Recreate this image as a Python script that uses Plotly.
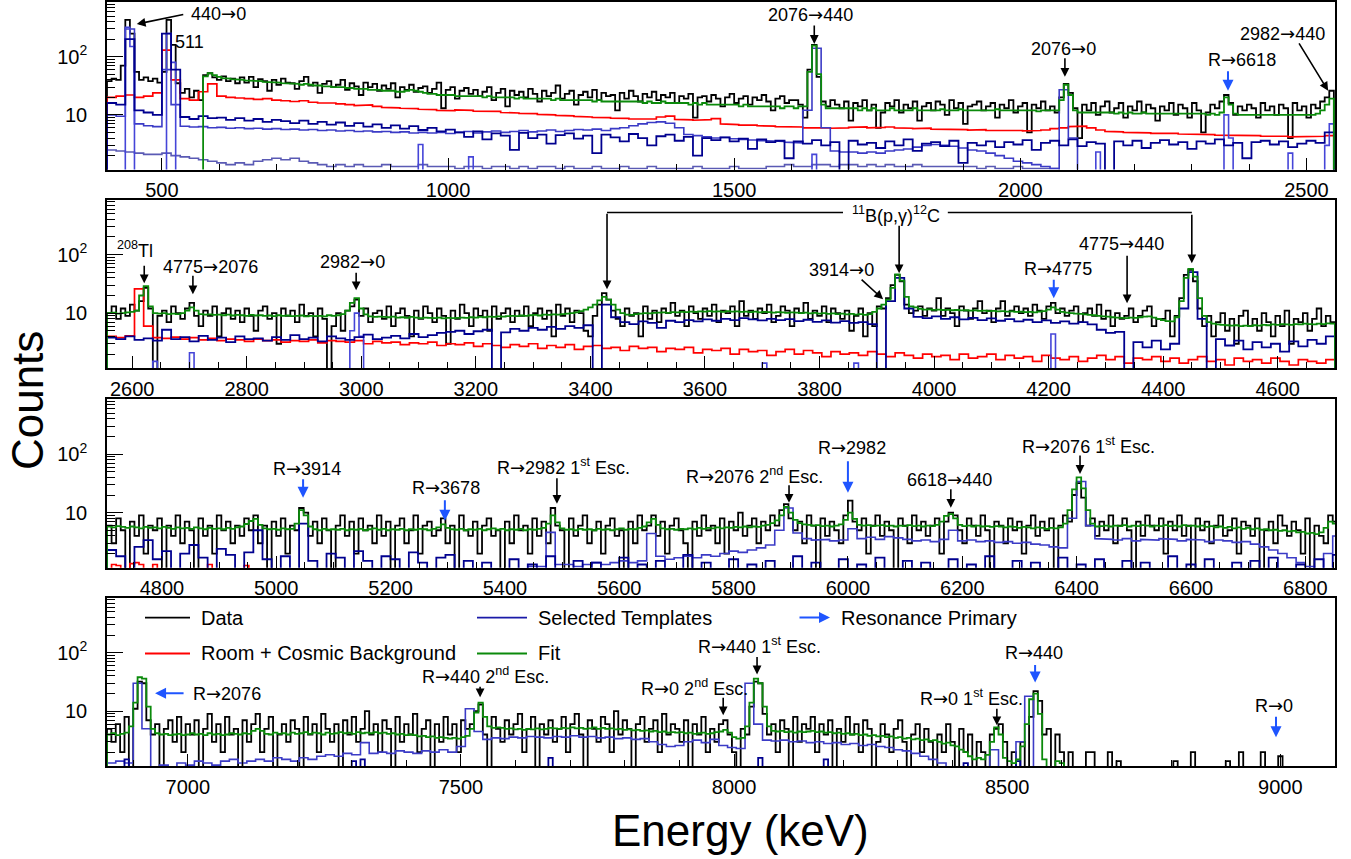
import plotly.graph_objects as go

FONT = "Liberation Sans, Arial, Helvetica, sans-serif"
FLOOR = 0.3  # zero-count bins are drawn at the bottom edge (below the log range)

# ---------------- panel energy ranges (keV) ----------------
x_range = [[404, 2550], [2556, 4700], [4704, 6852], [6852, 9100]]
bin_start = [404, 2556, 4704, 6852]
FINE = 8      # keV per bin (data, fit, sparse templates)
COARSE = 16   # keV per bin (background, template continua)
y_log_range = [0.06, 2.94]

# ================= PANEL 1 =================
data_p1 = [38, 42, 40, 70, 430, 250, 55, 40, 44, 38,
           42, 36, 55, 430, 160, 35, 24, 28, 20, 26,
           18, 48, 52, 44, 40, 46, 38, 42, 35, 44,
           36, 45, 30, 41, 38, 26, 40, 33, 42, 36,
           35, 28, 38, 45, 32, 36, 24, 34, 38, 30,
           33, 40, 27, 35, 31, 22, 36, 30, 34, 26,
           32, 28, 35, 20, 30, 27, 33, 25, 29, 31,
           24, 28, 36, 13, 27, 30, 19, 26, 29, 23,
           27, 21, 25, 30, 18, 24, 28, 14, 26, 22,
           25, 20, 28, 23, 17, 26, 21, 24, 32, 19,
           23, 26, 15, 22, 25, 20, 27, 18, 24, 21,
           22, 12, 24, 19, 26, 21, 17, 23, 20, 25,
           18, 22, 20, 24, 16, 21, 19, 23, 9, 20,
           21, 17, 22, 19, 14, 20, 23, 16, 19, 21,
           15, 20, 18, 22, 17, 12, 19, 21, 16, 18,
           18, 15, 9, 60, 160, 45, 17, 14, 18, 15,
           13, 17, 8, 16, 14, 18, 12, 15, 6, 11,
           16, 14, 18, 11, 15, 13, 17, 8, 14, 16,
           12, 17, 15, 10, 18, 13, 16, 7, 14, 15,
           17, 12, 14, 16, 9, 15, 13, 18, 11, 14,
           16, 5, 15, 13, 17, 12, 14, 11, 20, 34,
           24, 13, 4, 15, 12, 16, 10, 14, 17, 11,
           13, 16, 9, 14, 12, 17, 11, 15, 13, 8,
           14, 12, 16, 10, 15, 13, 9, 16, 12, 5,
           11, 15, 13, 17, 22, 16, 10, 14, 12, 15,
           13, 9, 16, 12, 14, 10, 15, 13, 4, 16,
           12, 14, 9, 15, 13, 17, 20, 26]

fit_p1 = [0] * 21 + [46, 52, 48, 45, 43, 42, 41, 40, 40,
           39, 39, 38, 38, 37, 37, 36, 36, 35, 35,
           34, 34, 33, 34, 33, 32, 32, 31, 31, 30,
           30, 30, 29, 29, 28, 28, 28, 27, 27, 27,
           26, 26, 26, 25, 25, 26, 27, 26, 25, 24,
           23, 23, 22, 22, 22, 22, 21, 21, 21, 21,
           21, 21, 20, 21, 20, 20, 20, 20, 20, 19,
           20, 19, 19, 19, 19, 19, 19, 18, 19, 18,
           18, 18, 18, 18, 18, 18, 17, 18, 17, 17,
           17, 17, 17, 17, 17, 17, 17, 16, 17, 16,
           16, 17, 16, 16, 16, 16, 16, 15, 16, 15,
           16, 15, 15, 15, 15, 15, 15, 15, 14, 15,
           14, 14, 14, 14, 14, 14, 14, 13, 14, 14,
           13, 14, 14, 55, 155, 50, 15, 13, 13, 13,
           13, 13, 13, 13, 12, 13, 12, 13, 12, 12,
           12, 13, 12, 12, 12, 12, 13, 12, 12, 12,
           12, 12, 12.5, 12, 12, 12, 12.5, 12, 12, 12,
           12, 12, 12, 12, 12.5, 12, 12, 12, 12, 12,
           12, 12, 12, 11.5, 12, 12, 12, 12, 18, 33,
           22, 12, 11, 11, 11, 11, 11, 11, 11, 11,
           10.5, 11, 10.5, 11, 10.5, 10.5, 11, 10.5, 10.5, 10.5,
           10.5, 10.5, 10.5, 10.5, 10.5, 10.5, 10.5, 10.5, 10.5, 10.5,
           10, 10.5, 10, 11, 20, 15, 10.5, 10, 10, 10,
           10, 10, 10, 10, 10, 10, 10, 10, 10, 10,
           10, 10, 10, 10, 10.5, 12, 15, 19]

bkg_p1 = [20, 21, 22, 20, 21, 24, 130, 40, 19, 18, 25, 34, 21, 20,
          19.5, 19, 18.5, 19, 18, 17.5, 17, 17.5, 16.5, 16, 16, 15.5, 15, 14.5,
          14.8, 14, 13.5, 13.2, 13, 12.8, 12.5, 12.3, 12, 11.8,
          12.2, 12, 11.6, 11.4, 11.5, 11, 10.8, 10.6, 10.5, 10.2, 10, 9.8, 9.6, 9.4, 9.2,
          9.1, 9.0, 8.8, 8.7, 8.5, 8.4, 8.5, 9.2, 9.5, 8.4, 8.2, 8.1, 8.3, 8.6,
          7.0, 6.8, 6.7, 6.7, 6.5, 6.4, 6.3, 6.3, 6.2, 6.0, 6.1, 6.0, 5.9, 6.0, 6.1, 6.2, 6.0, 6.1,
          6.2, 6.0, 5.9, 5.8, 5.9, 5.7, 5.6, 5.7, 5.6, 5.5, 5.6, 5.4, 5.5, 5.5, 5.4, 5.3, 5.4, 5.5,
          5.8, 6.0, 6.3,
          6.4, 6.0, 5.5, 5.2, 5.1, 5.0, 5.0, 4.9, 4.8, 4.9, 4.8, 4.7, 4.6, 4.7, 4.6, 4.5, 4.5, 4.4,
          4.5, 4.4, 4.3, 4.4, 4.3, 4.2, 4.3, 4.2, 4.3, 4.4]

tplA_p1 = [16, 15, 200, 12, 11, 10, 250, 60,
           9.2, 8.5, 9.5, 8.8, 9.0, 8.2, 8.8, 8.0, 8.5, 7.6, 8.2, 7.8, 7.2, 8.0, 7.0,
           7.6, 6.8, 7.4, 6.5, 7.2, 6.3, 6.9, 6.0, 6.6, 5.8, 6.4, 5.5, 6.0, 5.2, 5.6,
           5.0, 4.2, 5.2, 3.8, 4.8, 4.4, 2.5, 4.9, 4.0, 4.6, 3.2, 4.5, 4.8, 3.9, 4.4,
           2.2, 4.6, 4.1, 3.5, 4.7, 4.0, 3.0, 4.3, 4.6, 3.6, 4.2, 2.0, 4.0, 3.7, 4.1,
           3.5, 3.9, 2.6, 3.8, 3.4, 3.6, 1.8, 3.5, 3.2, 3.7, 3.0, 3.4, 0, 3.6, 3.1,
           3.3, 2.7, 3.5, 3.0, 3.8, 2.4, 3.2, 3.4, 2.9, 3.6, 1.5, 3.3, 3.0, 3.5, 2.8,
           3.4, 3.1, 3.7, 2.5, 3.3, 3.6, 3.0, 3.8, 2.9, 3.4, 3.2, 0, 3.5, 3.0, 3.6,
           2.7, 3.3, 3.7, 3.1, 3.4, 2.6, 3.5, 3.2, 3.8, 3.0, 3.3, 1.8, 3.4, 3.6, 3.1,
           3.5, 2.8, 3.2, 3.6, 3.3, 5.0]

tplB_p1 = [10, 9.5, 300, 7, 6.5, 6.3, 60, 15,
           6.4, 6.2, 6.3, 6.0, 6.1, 5.9, 6.0, 5.8, 5.9, 5.7, 5.8, 5.6, 5.7, 5.5, 5.6,
           5.4, 5.5, 5.3, 5.4, 5.2, 5.3, 5.1, 5.2, 5.0, 5.1, 4.9, 5.0, 4.9, 5.0, 4.8,
           5.0, 5.2, 4.9, 5.1, 5.3, 5.0, 5.2, 5.4, 5.1, 5.3, 5.5, 5.2, 5.4, 5.6, 5.5,
           5.7, 5.4, 5.8, 6.0, 6.5, 7.0, 7.4, 7.6, 7.2, 6.0, 4.6, 4.4, 4.2, 4.0, 4.1,
           3.9, 3.8, 3.7, 3.6, 3.6, 3.5, 3.4, 3.3, 12, 140, 6, 2.4, 2.3, 2.3, 2.2,
           2.3, 2.2, 2.4, 2.5, 2.6, 2.8, 3.0, 3.1, 3.0, 2.9, 2.7, 2.5, 2.4, 2.2, 2.0,
           1.8, 1.6, 1.5, 1.4, 1.3, 1.2, 27, 4] + [0] * 28

tplC_p1 = [2.5, 2.4, 2.3, 2.2, 2.1, 2.1, 2.2, 2.0, 1.9, 1.8, 1.7, 1.6, 1.5,
           1.4, 1.5, 1.4, 1.6, 1.7, 1.8, 1.7, 1.8, 1.6, 1.5,
           1.4, 1.3, 1.4, 1.3, 1.4, 1.3, 1.3, 1.4, 1.3, 1.3,
           1.3, 1.4, 1.3, 1.3, 1.3, 1.2, 1.3, 1.3, 1.2, 1.3,
           1.3, 1.2, 1.3, 1.2, 1.3, 1.3, 1.2, 1.3, 1.2, 1.2,
           1.3, 1.2, 1.2, 1.3, 1.2, 1.2, 1.3, 1.2, 1.2, 1.2,
           1.2, 1.3, 1.2, 1.2, 1.2, 1.3, 1.2, 1.2, 1.2, 1.3,
           1.3, 1.4, 1.3, 1.3, 1.4, 1.4, 1.3, 1.4, 1.4, 1.3,
           1.4, 1.3, 1.4, 1.3, 1.3, 1.4, 1.3, 1.3, 1.3, 1.3,
           1.3, 1.3, 1.2, 1.3, 1.2, 1.2, 1.3, 1.2, 1.2, 1.2, 1.2] + [0] * 30

# narrow-peak template: bin start energy (keV) -> counts
tplD_p1 = {436: 320, 444: 150, 508: 250, 516: 80, 948: 3.1, 1036: 1.9, 1636: 2.1,
           2132: 2.3, 2356: 10, 2364: 4, 2468: 2.2, 2532: 3, 2540: 7}

# ================= PANEL 2 =================
data_p2 = [10, 13, 8, 12, 9, 14, 11, 16, 27, 12,
           0, 9, 11, 7, 13, 10, 8, 12, 15, 9,
           6, 11, 9, 13, 4, 10, 12, 8, 11, 7,
           12, 9, 5, 11, 13, 8, 10, 3, 12, 9,
           11, 7, 14, 9, 10, 4, 12, 8, 0, 6,
           10, 5, 11, 13, 17, 9, 12, 7, 10, 11,
           8, 13, 6, 10, 12, 9, 4, 11, 8, 13,
           10, 7, 12, 9, 3, 11, 8, 14, 10, 6,
           12, 9, 11, 5, 13, 8, 10, 12, 7, 11,
           9, 13, 6, 10, 12, 8, 11, 4, 14, 9,
           12, 7, 11, 10, 5, 4, 9, 14, 22, 17,
           11, 8, 6, 12, 9, 10, 4, 13, 8, 11,
           7, 12, 10, 15, 9, 11, 6, 13, 10, 8,
           12, 9, 14, 7, 11, 10, 13, 6, 16, 9,
           11, 8, 12, 10, 14, 7, 9, 13, 11, 6,
           12, 10, 15, 8, 11, 9, 13, 7, 12, 10,
           8, 11, 5, 9, 12, 4, 10, 6, 13, 12,
           18, 30, 45, 35, 14, 10, 11, 13, 9, 12,
           11, 18, 9, 12, 10, 6, 13, 11, 8, 12,
           16, 10, 11, 7, 12, 16, 9, 11, 13, 10,
           12, 9, 14, 11, 8, 13, 15, 10, 12, 9,
           11, 13, 7, 10, 12, 9, 14, 8, 11, 6,
           10, 8, 9, 12, 7, 9, 11, 13, 6, 8,
           8, 11, 4, 9, 18, 45, 55, 35, 12, 6,
           9, 4, 7, 10, 5, 8, 3, 9, 11, 6,
           8, 5, 10, 7, 4, 9, 6, 11, 3, 8,
           7, 10, 5, 8, 12, 6, 9, 7]

fit_p2 = [10, 10.2, 9.8, 10, 10.3, 10.5, 11, 20, 29, 13,
          10, 9.8, 10, 9.6, 9.8, 9.6, 10, 11, 12.5, 11,
          9.6, 9.4, 9.5, 9.3, 9.4, 9.2, 9.4, 9.1, 9.3, 9.2,
          9.0, 9.3, 9.1, 9.2, 9.0, 9.1, 8.9, 9.2, 9.0, 9.1,
          8.9, 9.0, 9.1, 8.8, 9.0, 8.9, 9.0, 8.8, 9.2, 9.0,
          9.2, 9.6, 11, 15, 18, 12, 9.5, 8.8, 8.6, 8.7,
          8.6, 8.5, 8.7, 8.4, 8.5, 8.3, 8.6, 8.4, 8.2, 8.4,
          8.3, 8.2, 8.4, 8.1, 8.3, 8.2, 8.3, 8.4, 8.3, 8.5,
          8.4, 8.6, 8.5, 8.7, 8.6, 8.8, 8.7, 8.9, 9.0, 8.9,
          9.1, 9.0, 9.2, 9.3, 9.1, 9.4, 9.3, 9.5, 9.4, 9.6,
          9.8, 10, 10.3, 10.8, 11.5, 12.5, 14, 16.5, 19, 17,
          14, 11.5, 10, 9.4, 9.3, 9.6, 9.8, 10, 9.9, 10.1,
          10.2, 10.3, 10.1, 10.4, 10.3, 10.5, 10.4, 10.6, 10.5, 10.7,
          10.6, 10.8, 10.6, 10.7, 10.5, 10.8, 10.6, 10.7, 10.5, 10.6,
          10.4, 10.6, 10.3, 10.5, 10.4, 10.2, 10.4, 10.3, 10.1, 10.3,
          10.2, 10.0, 10.2, 9.9, 10.1, 9.8, 10.0, 9.7, 9.9, 9.6,
          9.8, 9.5, 9.7, 9.4, 9.6, 9.3, 9.6, 10.5, 12, 14,
          17, 27, 46, 36, 19, 13, 12.5, 11.8, 11.5, 11.6,
          11.4, 11.5, 11.3, 11.4, 11.2, 11.3, 11.1, 11.2, 11.0, 11.1,
          10.9, 11.0, 10.8, 10.9, 10.7, 10.8, 10.6, 10.7, 10.5, 10.6,
          10.4, 10.5, 10.3, 10.6, 10.8, 11.5, 12.5, 11.5, 10.5, 10.2,
          10.0, 9.8, 9.7, 9.5, 9.3, 9.2, 9.0, 8.8, 8.7, 8.5,
          8.4, 8.3, 8.2, 8.4, 8.3, 8.5, 8.7, 8.8, 8.4, 8.0,
          7.6, 7.3, 7.2, 8.5, 16, 40, 57, 42, 18, 9,
          7.0, 6.6, 6.4, 6.3, 6.2, 6.1, 6.2, 6.0, 6.1, 6.0,
          6.2, 6.1, 6.3, 6.2, 6.4, 6.3, 6.5, 6.4, 6.3, 6.5,
          6.4, 6.6, 6.5, 6.4, 6.6, 6.5, 6.7, 6.6]

bkg_p2 = [4.0, 3.8, 4.1, 26, 6,
          3.8, 3.7, 3.9, 3.6, 3.8, 3.5, 3.7, 3.4, 3.6, 3.5, 3.3, 3.6, 3.4, 3.5, 3.2, 3.4,
          3.3, 3.5, 3.1, 3.4, 3.3, 3.2, 3.4, 3.0, 3.3, 3.1, 3.2, 2.9, 3.1, 3.0, 3.2, 2.8, 3.0,
          2.9, 3.1, 2.7, 3.0, 2.8, 2.6, 2.9, 2.7, 3.0, 2.5, 2.8, 2.6, 2.9, 2.4, 2.7, 2.8,
          2.5, 2.6, 2.3, 2.7, 2.5, 2.6, 2.2, 2.5, 2.4, 2.6, 2.1, 2.4, 2.3, 2.5, 2.0, 2.4,
          2.2, 2.3, 1.9, 2.2, 2.4, 2.0, 2.3, 2.1, 1.8, 2.2, 2.0, 2.1, 1.9, 2.2,
          2.0, 1.8, 2.1, 1.9, 1.7, 2.0, 1.8, 1.9, 1.6, 2.0, 1.7, 1.8, 2.0, 1.6, 1.9, 1.7,
          1.8, 1.5, 1.9, 1.7, 1.6, 1.8, 1.5, 1.7, 1.9, 1.6, 1.8, 1.4, 1.7, 1.6, 1.8, 1.5,
          1.7, 1.4, 1.6, 1.8, 1.5, 1.6, 1.3, 1.7, 1.5, 1.6, 1.4, 1.7, 1.5, 1.3, 1.6, 1.5,
          1.4, 1.6]

tplA_p2 = [3.8, 3.6, 4.0, 3.5, 3.7, 3.4, 5.2, 3.6, 3.9, 3.3, 4.1, 3.5, 3.8, 3.2, 4.0,
           3.6, 3.7, 3.4, 3.9, 3.5, 4.2, 3.6, 3.8, 3.3, 4.0, 3.7, 3.5, 3.9, 4.3, 3.6,
           3.8, 4.1, 3.7, 4.4, 3.9, 4.2, 4.6,
           4.8, 5.0, 4.4, 4.9, 5.2, 0, 4.7, 5.4, 5.0, 5.6, 5.2, 5.8, 5.4, 6.0, 5.6, 6.2, 0,
           14, 8.5,
           7.0, 6.5, 7.2, 6.8, 5.6, 7.4, 7.0, 7.6, 7.2, 7.8, 7.4, 8.0, 7.6, 8.2, 7.8,
           7.5, 8.0, 7.6, 7.9, 7.3, 7.7, 7.1, 7.5, 6.9, 7.3, 6.8, 7.0, 6.5, 0,
           16, 40, 12,
           8.6, 8.2, 8.8, 8.0, 8.5, 7.8, 8.3, 7.6, 8.1, 7.4, 7.9, 7.2, 7.7, 7.0, 7.5,
           6.8, 7.2, 6.6, 7.0, 6.4,
           5.2, 4.6, 4.8, 0, 3.2, 2.6, 3.4, 2.4, 3.0, 12, 50, 8, 0,
           3.6, 2.8, 3.4, 2.4, 3.2, 2.6, 3.0, 2.2, 3.3, 2.7, 3.5, 3.0, 4.0]

tplD_p2 = {2636: 1.5, 2700: 2.1, 2980: 5, 2988: 10, 2996: 4, 3700: 1.4, 3860: 1.4, 4204: 4.4}

# ================= PANEL 3 =================
data_p3 = [6, 3, 8, 5, 0, 7, 4, 9, 2, 6,
           5, 8, 1, 6, 4, 9, 3, 7, 5, 0,
           8, 4, 6, 2, 9, 5, 7, 3, 6, 4,
           8, 5, 9, 3, 6, 0, 7, 4, 8, 2,
           6, 5, 12, 10, 4, 7, 3, 8, 5, 0,
           6, 9, 4, 7, 2, 8, 5, 6, 3, 9,
           4, 7, 0, 6, 8, 3, 5, 9, 2, 6,
           7, 4, 5, 8, 3, 6, 0, 9, 5, 4,
           7, 2, 6, 8, 4, 5, 0, 7, 3, 9,
           5, 6, 2, 8, 4, 7, 3, 12, 6, 5,
           0, 8, 4, 6, 9, 3, 5, 7, 2, 6,
           8, 4, 5, 0, 7, 3, 9, 5, 6, 9,
           4, 7, 2, 6, 8, 5, 3, 0, 7, 4,
           9, 5, 6, 3, 8, 2, 7, 5, 10, 4,
           6, 8, 3, 7, 5, 9, 6, 11, 14, 8,
           5, 7, 3, 9, 6, 0, 8, 4, 7, 5,
           3, 9, 16, 7, 5, 8, 2, 6, 9, 4,
           7, 5, 0, 8, 6, 3, 9, 5, 7, 4,
           6, 8, 2, 7, 10, 9, 5, 3, 8, 6,
           4, 9, 5, 0, 7, 6, 3, 8, 5, 7,
           2, 6, 9, 4, 7, 5, 8, 0, 6, 9,
           7, 20, 32, 18, 6, 8, 4, 7, 5, 9,
           3, 6, 8, 5, 0, 7, 4, 9, 6, 5,
           8, 2, 7, 5, 9, 4, 6, 0, 8, 5,
           7, 3, 6, 9, 4, 5, 8, 2, 7, 6,
           4, 8, 0, 5, 7, 3, 9, 6, 4, 7,
           5, 2, 8, 0, 6, 4, 3, 9, 7]

fit_p3 = [5.8, 5.6, 5.9, 5.7, 5.5, 5.8, 5.6, 5.4, 5.7, 5.5,
          5.6, 5.4, 5.7, 5.5, 5.3, 5.6, 5.4, 5.5, 5.3, 5.6,
          5.4, 5.2, 5.5, 5.3, 5.4, 5.2, 5.5, 5.3, 5.6, 5.8,
          6.4, 7.2, 7.8, 6.2, 5.4, 5.2, 5.3, 5.1, 5.4, 5.2,
          5.3, 6.5, 11, 9, 5.8, 5.2, 5.0, 5.3, 5.1, 5.2,
          5.1, 5.3, 5.0, 5.2, 5.1, 5.3, 5.0, 5.2, 5.4, 5.1,
          5.3, 5.0, 5.2, 5.1, 5.3, 5.0, 5.2, 5.1, 5.3, 5.2,
          5.0, 5.3, 5.6, 6.3, 5.5, 5.2, 5.1, 5.3, 5.0, 5.2,
          5.1, 5.3, 5.0, 5.2, 5.4, 5.1, 5.3, 5.0, 5.2, 5.1,
          5.3, 5.0, 5.2, 5.1, 5.3, 5.5, 6.5, 9.0, 6.8, 5.4,
          5.1, 5.2, 5.0, 5.3, 5.1, 5.2, 5.0, 5.3, 5.1, 5.2,
          5.0, 5.2, 5.4, 5.1, 5.3, 5.2, 5.5, 5.8, 6.8, 7.8,
          6.2, 5.4, 5.2, 5.3, 5.1, 5.3, 5.2, 5.4, 5.2, 5.5,
          5.3, 5.5, 5.4, 5.6, 5.4, 5.6, 5.5, 5.7, 5.6, 5.8,
          5.6, 5.8, 5.7, 6.0, 6.2, 6.6, 7.4, 9.0, 12.5, 10,
          7.5, 6.6, 6.3, 6.2, 6.0, 6.1, 5.9, 6.0, 5.8, 6.0,
          6.3, 7.5, 10, 7.8, 6.2, 6.0, 6.1, 5.9, 6.0, 6.1,
          5.9, 6.0, 5.8, 6.0, 5.9, 6.1, 5.9, 6.0, 5.8, 6.0,
          5.9, 6.2, 7.0, 8.8, 9.4, 8.0, 6.2, 5.9, 6.0, 5.8,
          6.0, 5.8, 5.9, 5.7, 5.9, 5.8, 5.6, 5.8, 5.7, 5.5,
          5.7, 5.6, 5.4, 5.6, 5.5, 5.3, 5.5, 5.4, 5.6, 6.5,
          11, 25, 40, 26, 11, 6.5, 5.8, 5.9, 6.0, 5.8,
          6.0, 5.9, 6.1, 5.8, 6.0, 5.9, 6.1, 6.0, 5.8, 6.0,
          5.9, 6.1, 5.9, 6.0, 5.8, 6.1, 5.9, 6.0, 5.8, 6.0,
          5.7, 5.9, 5.6, 5.8, 5.5, 5.7, 5.4, 5.6, 5.3, 5.5,
          5.2, 5.4, 5.1, 5.2, 5.0, 5.1, 4.9, 5.0, 4.8, 4.9,
          4.6, 4.7, 4.4, 4.5, 4.3, 4.6, 5.5, 7.0, 6.5]

bkg_p3 = {4712: 1.3, 4720: 1.25, 4744: 1.35, 4752: 1.4, 4760: 1.3, 4784: 1.3, 4880: 1.3, 4944: 1.25}

tplA_p3 = [2.3, 1.8, 0, 2.6, 3.4, 1.6, 2.2, 0, 2.0, 2.8, 1.7, 0, 2.4, 1.9, 0, 2.1, 5.0, 1.6, 0, 1.8,
           0, 6.5, 1.5, 0, 2.0, 1.7, 0, 2.2, 1.5, 0, 1.8, 1.6, 0, 2.1, 1.4, 0, 1.7, 1.9, 0, 1.5,
           0, 1.4, 0, 0, 1.6, 0, 1.3, 0, 1.8, 0,
           0, 1.5, 0, 1.4, 0, 0, 1.7, 0, 1.3, 0,
           1.5, 0, 0, 1.9, 0, 1.4, 0, 0, 1.6, 0,
           1.3, 0, 1.5, 0, 0, 1.8, 0, 1.4, 0, 0,
           1.6, 0, 1.3, 0, 1.7, 0, 0, 1.5, 0, 1.4,
           0, 0, 1.6, 0, 1.3, 0, 1.8, 0, 0, 1.5,
           0, 1.4, 0, 0, 1.7, 0, 1.3, 0, 1.6, 0,
           0, 1.5, 0, 1.4, 0, 0, 1.8, 0, 1.3, 0,
           1.6, 0, 0, 1.4, 0, 1.5, 0, 1.7, 0, 0,
           1.3, 0, 1.6, 0, 1.9]

tplB_p3 = [0] * 46 + [1.2, 1.2, 4.6, 1.3,
           1.3, 1.2, 1.3, 1.4, 1.3, 1.4, 1.5, 1.4, 1.5, 4.4,
           1.8,
           1.6, 1.7, 1.8, 1.7, 1.9, 1.8, 2.0, 2.2, 2.1, 2.3, 2.5, 2.8,
           5, 12, 4.5,
           3.6, 3.4, 3.5, 3.3, 3.4,
           5.3,
           3.6, 3.8, 3.5, 3.9, 3.7,
           3.5, 3.3, 3.4, 3.2, 3.5, 5.0,
           3.3, 3.4, 3.2, 3.3, 3.1, 3.2, 3.0, 3.1, 2.9, 2.8, 2.6, 2.5,
           8, 34, 6,
           3.6, 3.5, 3.4, 3.6, 3.3, 3.5, 3.4, 3.6, 3.5, 3.3, 3.5, 3.4, 3.2, 3.4, 3.3, 3.1, 3.2,
           2.9, 2.6, 2.3, 2.0, 1.7, 1.4, 1.2, 0, 2.0, 4.0]

# ================= PANEL 4 =================
data_p4 = [5, 3, 6, 2, 8, 0, 11, 32, 30, 7,
           4, 6, 0, 5, 7, 3, 8, 2, 6, 4,
           7, 0, 5, 9, 3, 6, 2, 8, 4, 5,
           0, 7, 3, 6, 9, 2, 5, 8, 0, 4,
           6, 3, 7, 5, 0, 8, 4, 6, 2, 9,
           5, 3, 6, 0, 7, 4, 8, 3, 5, 10,
           4, 6, 2, 7, 5, 0, 8, 3, 6, 4,
           9, 2, 5, 7, 0, 6, 3, 8, 4, 6,
           2, 7, 5, 6, 10, 13, 4, 0, 8, 5,
           3, 7, 4, 6, 9, 2, 5, 8, 0, 6,
           4, 7, 3, 5, 8, 2, 6, 9, 4, 0,
           7, 5, 3, 8, 6, 2, 10, 4, 7, 5,
           0, 6, 8, 3, 5, 7, 2, 9, 4, 6,
           5, 3, 7, 0, 6, 4, 8, 2, 5, 3,
           6, 7, 4, 2, 0, 5, 4, 12, 32, 30,
           9, 4, 6, 2, 7, 5, 0, 8, 3, 6,
           5, 8, 2, 6, 4, 7, 0, 5, 3, 8,
           4, 6, 2, 7, 5, 0, 3, 6, 4, 2,
           5, 7, 3, 0, 4, 6, 2, 5, 3, 0,
           4, 2, 6, 3, 0, 5, 2, 4, 0, 3,
           2, 0, 4, 5, 6, 3, 0, 2, 0, 3,
           0, 8, 22, 15, 4, 5, 0, 4, 2, 0,
           2, 0, 0, 0, 2, 2, 0, 0, 0, 2,
           0, 1.4, 0, 0, 0, 0, 0, 0, 0, 0,
           0, 0, 0, 0, 1.4, 0, 0, 0, 2, 0,
           0, 0, 0, 0, 0, 0, 1.4, 0, 0, 2,
           0, 0, 0, 0, 2, 0, 0, 0, 1.7, 0,
           0, 0, 0, 0, 0, 0, 0, 0, 0, 0, 0]

fit_p4 = [4.0, 4.2, 3.9, 4.1, 4.3, 5.5, 14, 38, 36, 12,
          5.0, 4.2, 4.0, 4.1, 3.9, 4.0, 4.1, 3.9, 4.0, 4.2,
          4.0, 4.1, 3.9, 4.2, 4.0, 4.1, 3.9, 4.0, 4.2, 4.1,
          4.0, 4.2, 4.1, 4.6, 5.0, 4.6, 4.1, 4.0, 4.3, 4.1,
          4.2, 4.0, 4.3, 4.1, 4.2, 4.4, 4.1, 4.3, 4.2, 4.0,
          4.3, 4.1, 4.2, 4.4, 4.2, 4.3, 4.1, 4.4, 4.2, 4.3,
          4.2, 4.4, 4.2, 4.3, 4.1, 4.2, 4.0, 4.1, 3.9, 4.0,
          3.9, 3.7, 3.8, 3.6, 3.7, 3.5, 3.6, 3.5, 3.4, 3.5,
          3.4, 3.6, 3.8, 5.0, 9.5, 14, 8.0, 5.5, 5.2, 5.3,
          5.2, 5.0, 5.1, 4.9, 5.0, 4.8, 5.0, 4.9, 5.1, 4.9,
          5.0, 5.2, 5.1, 5.0, 5.2, 5.1, 5.3, 5.1, 5.2, 5.0,
          5.1, 5.3, 5.0, 5.2, 5.0, 5.1, 4.9, 5.0, 4.8, 4.9,
          4.7, 4.8, 4.6, 4.7, 4.5, 4.6, 4.4, 4.5, 4.3, 4.4,
          4.3, 4.4, 4.2, 4.3, 4.1, 4.2, 4.3, 4.1, 4.2, 4.4,
          4.5, 4.8, 4.3, 3.6, 3.4, 3.5, 5.5, 14, 36, 30,
          12, 5.5, 4.6, 4.5, 4.6, 4.4, 4.5, 4.3, 4.5, 4.4,
          4.5, 4.6, 4.4, 4.5, 4.3, 4.4, 4.2, 4.3, 4.1, 4.2,
          4.0, 4.1, 3.9, 4.0, 3.8, 3.9, 3.7, 3.8, 3.6, 3.7,
          3.5, 3.6, 3.4, 3.5, 3.3, 3.4, 3.2, 3.3, 3.1, 3.2,
          3.0, 2.8, 2.9, 2.6, 2.5, 2.2, 2.0, 1.7, 1.5, 1.6,
          1.5, 1.8, 3.0, 5.3, 4.0, 1.6, 1.4, 1.3, 1.5, 2.5,
          6, 16, 20, 9, 1.5, 0, 0, 1.4, 1.3, 0] + [0] * 61

tplB_p4 = [1.3, 1.4, 1.3, 30, 5,
           0, 1.2, 0, 1.3, 1.2, 1.4, 1.3, 1.2, 1.4, 1.5, 1.3, 1.4, 1.5, 1.4, 1.6, 1.5, 1.4, 1.6, 1.5, 1.7,
           1.8, 1.7, 1.9, 1.8, 2.9, 1.9, 2.0, 1.9, 2.1, 2.0, 1.9, 2.1, 2.0, 2.2, 2.0, 2.5, 11,
           4.5,
           3.3, 3.5, 3.4, 3.6, 3.5, 3.7, 3.6, 3.5, 3.7, 3.6, 3.8, 3.6, 3.7, 3.5, 3.6, 3.4,
           3.5, 3.3, 3.4, 3.0, 2.7, 2.5, 2.6, 3.0, 3.2, 2.9,
           3.3, 2.6, 2.4, 2.3, 30, 6,
           3.2, 3.1, 3.2, 3.0, 3.1, 2.9, 3.0, 2.8, 2.9, 2.7, 2.8, 2.6, 2.7, 2.5, 2.4, 2.2,
           2.1, 1.9, 1.7, 1.5, 1.3,
           0, 0, 0, 0, 0, 2.2, 0, 0, 3, 18, 0] + [0] * 33

tplA_p4 = {6884: 1.5, 7300: 1.4, 7316: 1.5, 7660: 1.6, 8044: 1.6, 8164: 1.5, 8420: 1.3, 8516: 1.4}

# ---------------- styles ----------------
C_DATA = "#000000"
C_BKG = "#ff0000"
C_FIT = "#0b8a0b"
C_TA = "#00008f"
C_TB = "#3b3bc6"
C_TC = "#5a5ab4"
C_TD = "#4545d8"
C_RES = "#1f55ff"
ARW = '<span style="font-family:DejaVu Sans">→</span>'


def hist_xy(start, width, vals):
    xs, ys = [start], [FLOOR]
    for i, v in enumerate(vals):
        y = v if v > 0 else FLOOR
        xs += [start + i * width, start + (i + 1) * width]
        ys += [y, y]
    xs.append(start + len(vals) * width)
    ys.append(FLOOR)
    return xs, ys


def from_sparse(start, width, n, peaks):
    vals = [0.0] * n
    for e, v in peaks.items():
        vals[(e - start) // width] = v
    return vals


def nbins(p, width):
    return -(-(x_range[p][1] - bin_start[p]) // width)


panels = [
    [(data_p1, FINE, C_DATA, 1.8), (bkg_p1, COARSE, C_BKG, 1.7),
     (tplC_p1, COARSE, C_TC, 1.6), (tplB_p1, COARSE, C_TB, 1.6),
     (from_sparse(bin_start[0], FINE, nbins(0, FINE), tplD_p1), FINE, C_TD, 1.6),
     (tplA_p1, COARSE, C_TA, 1.8), (fit_p1, FINE, C_FIT, 1.8)],
    [(data_p2, FINE, C_DATA, 1.8), (bkg_p2, COARSE, C_BKG, 1.7),
     (from_sparse(bin_start[1], FINE, nbins(1, FINE), tplD_p2), FINE, C_TD, 1.6),
     (tplA_p2, COARSE, C_TA, 1.8), (fit_p2, FINE, C_FIT, 1.8)],
    [(data_p3, FINE, C_DATA, 1.8),
     (from_sparse(bin_start[2], FINE, nbins(2, FINE) + 1, bkg_p3), FINE, C_BKG, 1.7),
     (tplB_p3, COARSE, C_TB, 1.6), (tplA_p3, COARSE, C_TA, 1.8), (fit_p3, FINE, C_FIT, 1.8)],
    [(data_p4, FINE, C_DATA, 1.8), (tplB_p4, COARSE, C_TB, 1.6),
     (from_sparse(bin_start[3], FINE, nbins(3, FINE), tplA_p4), FINE, C_TA, 1.8),
     (fit_p4, FINE, C_FIT, 1.8)],
]

fig = go.Figure()
for p, series in enumerate(panels):
    sfx = "" if p == 0 else str(p + 1)
    for vals, width, color, lw in series:
        xs, ys = hist_xy(bin_start[p], width, vals)
        fig.add_trace(go.Scatter(x=xs, y=ys, mode="lines", line=dict(color=color, width=lw),
                                 xaxis="x" + sfx, yaxis="y" + sfx, showlegend=False,
                                 hoverinfo="skip"))

# ---------------- axes ----------------
W, H = 1351, 859
x_dom = [107 / W, 1335 / W]
y_doms = [[1 - 168 / H, 1.0], [1 - 367 / H, 1 - 198 / H],
          [1 - 567 / H, 1 - 398 / H], [1 - 766 / H, 1 - 597 / H]]
major_dt = [500, 200, 200, 500]
minor_dt = [100, 50, 50, 100]
minor_y = [2, 3, 4, 5, 6, 7, 8, 9, 20, 30, 40, 50, 60, 70, 80, 90,
           200, 300, 400, 500, 600, 700, 800, 900]

layout_axes = {}
for p in range(4):
    sfx = "" if p == 0 else str(p + 1)
    layout_axes["xaxis" + sfx] = dict(
        domain=x_dom, range=x_range[p], anchor="y" + sfx,
        showline=True, mirror=True, linecolor="black", linewidth=1.6,
        ticks="inside", ticklen=12, tickwidth=1.3, tickcolor="black",
        tick0=0, dtick=major_dt[p], showgrid=False, zeroline=False,
        minor=dict(ticks="inside", ticklen=6, tickwidth=1.2, tickcolor="black",
                   tick0=0, dtick=minor_dt[p], showgrid=False),
        tickfont=dict(family=FONT, size=20, color="black"), ticklabelstandoff=2)
    layout_axes["yaxis" + sfx] = dict(
        domain=y_doms[p], type="log", range=y_log_range, anchor="x" + sfx,
        showline=True, mirror=True, linecolor="black", linewidth=1.6,
        ticks="inside", ticklen=16, tickwidth=1.3, tickcolor="black",
        tickvals=[10, 100], ticktext=["10", "10<sup>2</sup>"],
        showgrid=False, zeroline=False,
        minor=dict(ticks="inside", ticklen=8, tickwidth=1.2, tickcolor="black",
                   tickmode="array", tickvals=minor_y, showgrid=False),
        tickfont=dict(family=FONT, size=20, color="black"), ticklabelstandoff=14)

# ---------------- labels ----------------
# (panel, text, x keV, log10 counts)
labels = [
    (0, "440" + ARW + "0", 598, 2.75), (0, "511", 549, 2.254), (0, "2076" + ARW + "440", 1633, 2.717),
    (0, "2076" + ARW + "0", 2075, 2.134), (0, "R" + ARW + "6618", 2388, 1.946),
    (0, "2982" + ARW + "440", 2459, 2.391),
    (1, "<sup>208</sup>Tl", 2605, 2.088), (1, "4775" + ARW + "2076", 2736, 1.799),
    (1, "2982" + ARW + "0", 2985, 1.884),
    (1, "<sup>11</sup>B(p,γ)<sup>12</sup>C", 3934, 2.684), (1, "3914" + ARW + "0", 3839, 1.747),
    (1, "R" + ARW + "4775", 4216, 1.764), (1, "4775" + ARW + "440", 4328, 2.190),
    (2, "R" + ARW + "3914", 5054, 1.747), (2, "R" + ARW + "3678", 5297, 1.424),
    (2, "R" + ARW + "2982 1<sup>st</sup> Esc.", 5503, 1.782),
    (2, "R" + ARW + "2076 2<sup>nd</sup> Esc.", 5837, 1.628),
    (2, "R" + ARW + "2982", 6007, 2.105), (2, "6618" + ARW + "440", 6178, 1.560),
    (2, "R" + ARW + "2076 1<sup>st</sup> Esc.", 6420, 2.139),
    (3, "R" + ARW + "2076", 7072, 1.305), (3, "R" + ARW + "440 2<sup>nd</sup> Esc.", 7544, 1.611),
    (3, "R" + ARW + "0 2<sup>nd</sup> Esc.", 7928, 1.407),
    (3, "R" + ARW + "440 1<sup>st</sup> Esc.", 8047, 2.122),
    (3, "R" + ARW + "0 1<sup>st</sup> Esc.", 8435, 1.236), (3, "R" + ARW + "440", 8549, 2.003),
    (3, "R" + ARW + "0", 8988, 1.100),
]
# (panel, tip x keV, tip log10 counts, tail dx px, tail dy px, resonance?)
arrows = [
    (0, 456, 2.56, 48, -10, False), (0, 1640, 2.22, 0, -20, False), (0, 2078, 1.654, 0, -20, False),
    (0, 2363, 1.414, 0, -21, True), (0, 2538, 1.414, -30, -49, False),
    (1, 2621, 1.509, 0, -19, False), (1, 2706, 1.322, 0, -20, False), (1, 2991, 1.390, 0, -19, False),
    (1, 3911, 1.236, -23, -21, False), (1, 4209, 1.253, 0, -20, True), (1, 4337, 1.168, 0, -49, False),
    (1, 3429, 1.407, 0, -77, False), (1, 3939, 1.679, 0, -49, False), (1, 4450, 1.850, 0, -50, False),
    (2, 5047, 1.253, 0, -20, True), (2, 5295, 0.862, 0, -22, True), (2, 5491, 1.151, 0, -27, False),
    (2, 5897, 1.168, 0, -19, False), (2, 6000, 1.339, 0, -33, True), (2, 6180, 1.083, 0, -20, False),
    (2, 6406, 1.662, 0, -20, False),
    (3, 6940, 1.305, 30, 0, True), (3, 7535, 1.236, 0, -12, False), (3, 7980, 0.930, 0, -19, False),
    (3, 8042, 1.628, 0, -19, False), (3, 8481, 0.759, 0, -18, False), (3, 8551, 1.492, 0, -19, True),
    (3, 8992, 0.555, 0, -22, True),
]
# connector lines for the 11B(p,g)12C label: (panel, x0, x1, log10 y)
connectors = [(1, 3429, 3841, 2.719), (1, 4024, 4450, 2.719)]

annotations = []
for p, txt, x, y in labels:
    sfx = "" if p == 0 else str(p + 1)
    annotations.append(dict(text=txt, x=x, y=y, xref="x" + sfx, yref="y" + sfx, showarrow=False,
                            font=dict(family=FONT, size=18, color="black")))
for p, x, y, ax, ay, res in arrows:
    sfx = "" if p == 0 else str(p + 1)
    annotations.append(dict(text="", x=x, y=y, xref="x" + sfx, yref="y" + sfx, showarrow=True,
                            ax=ax, ay=ay, arrowhead=2, arrowsize=1.1,
                            arrowwidth=2.0 if res else 1.6, standoff=0,
                            arrowcolor=C_RES if res else "black"))

shapes = []
for p, x0, x1, y in connectors:
    sfx = "" if p == 0 else str(p + 1)
    shapes.append(dict(type="line", xref="x" + sfx, yref="y" + sfx, x0=x0, x1=x1,
                       y0=10 ** y, y1=10 ** y, line=dict(color="black", width=1.6)))

# ---------------- legend (drawn inside the bottom panel) ----------------
legend_items = [("line", C_DATA, "Data", 145, 190, 617),
                ("line", C_BKG, "Room + Cosmic Background", 145, 190, 653),
                ("line", "#1a1aa8", "Selected Templates", 477, 527, 617),
                ("line", C_FIT, "Fit", 477, 527, 653),
                ("arrow", C_RES, "Resonance Primary", 798, 830, 617)]
for kind, color, txt, xa, xb, yy in legend_items:
    yp = 1 - yy / H
    if kind == "line":
        shapes.append(dict(type="line", xref="paper", yref="paper", x0=xa / W, x1=xb / W,
                           y0=yp, y1=yp, line=dict(color=color, width=1.8)))
    else:
        annotations.append(dict(text="", x=xb / W, y=yp, xref="paper", yref="paper",
                                showarrow=True, ax=-(xb - xa), ay=0, arrowhead=2, arrowsize=1.1,
                                arrowwidth=2.0, arrowcolor=color, standoff=0))
    annotations.append(dict(text=txt, x=(xb + 9) / W, y=yp, xref="paper", yref="paper",
                            xanchor="left", yanchor="middle", showarrow=False,
                            font=dict(family=FONT, size=20, color="black")))

# ---------------- axis titles ----------------
annotations.append(dict(text="Counts", x=27 / W, y=1 - 400 / H, xref="paper", yref="paper",
                        textangle=-90, showarrow=False, xanchor="center", yanchor="middle",
                        font=dict(family=FONT, size=44, color="black")))
annotations.append(dict(text="Energy (keV)", x=740 / W, y=1 - 830 / H, xref="paper", yref="paper",
                        showarrow=False, xanchor="center", yanchor="middle",
                        font=dict(family=FONT, size=44, color="black")))

fig.update_layout(width=W, height=H, margin=dict(l=0, r=0, t=0, b=0),
                  paper_bgcolor="white", plot_bgcolor="white", showlegend=False,
                  annotations=annotations, shapes=shapes, **layout_axes)

fig.write_html("out.html")
